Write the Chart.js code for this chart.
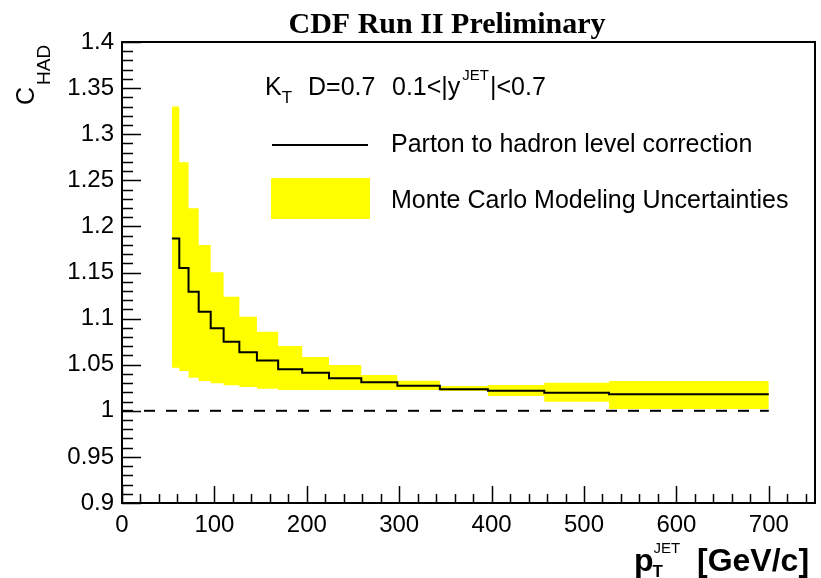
<!DOCTYPE html>
<html lang="en">

<head>
    <meta charset="UTF-8">
    <title>C_HAD</title>
    <script src="https://cdn.jsdelivr.net/npm/chart.js"></script>
    <style>
        body { margin: 0; background: #fff; }
        #caixa { width: 821px; height: 578px; }
    </style>
</head>

<body>
    <div id="caixa">
        <canvas id="grafico"></canvas>
    </div>
</body>

</html>

<script>

    // bins em pT (GeV/c)
    var binEdges = [54, 62, 72, 83, 96, 110, 127, 146, 169, 195, 224, 259, 298, 344, 396, 457, 527, 700];
    // correcao parton -> hadron
    var hadCorr = [1.187, 1.155, 1.129, 1.1075, 1.0895, 1.075, 1.0634, 1.0546, 1.0451, 1.0413, 1.0352, 1.0309, 1.0272, 1.0233, 1.0218, 1.0196, 1.0179];
    // banda de incerteza (Monte Carlo)
    var bandUpper = [1.330, 1.2695, 1.2196, 1.1798, 1.1502, 1.1237, 1.102, 1.0858, 1.0703, 1.0583, 1.0497, 1.0388, 1.0326, 1.0269, 1.028, 1.0305, 1.0323];
    var bandLower = [1.0467, 1.0432, 1.0359, 1.0323, 1.0298, 1.0277, 1.0258, 1.024, 1.0226, 1.0226, 1.0226, 1.0226, 1.0226, 1.0215, 1.016, 1.0098, 1.002];
    var refLevel = [[0, 1], [700, 1]];
    var xTickLabels = [0, 100, 200, 300, 400, 500, 600, 700];

    var xMin = 0, xMax = 750;
    var yMin = 0.9, yMax = 1.4;

    function histo(valores) {
        var pts = [];
        for (var i = 0; i < valores.length; i++) {
            pts.push({ x: binEdges[i], y: valores[i] });
        }
        pts.push({ x: binEdges[binEdges.length - 1], y: valores[valores.length - 1] });
        return pts;
    }

    var SANS = '"Liberation Sans", Arial, Helvetica, sans-serif';
    var SERIF = '"Liberation Serif", "Times New Roman", serif';

    function texto(ctx, s, x, y, fonte) {
        ctx.font = fonte;
        ctx.fillText(s, x, y);
        return ctx.measureText(s).width;
    }

    var desenhos = {
        id: 'desenhos',
        afterDraw: function (chart) {
            var ctx = chart.ctx;
            var a = chart.chartArea;
            var sx = chart.scales.x;
            var sy = chart.scales.y;
            ctx.save();
            ctx.strokeStyle = '#000';
            ctx.fillStyle = '#000';

            // ticks para dentro (estilo ROOT)
            ctx.lineWidth = 1.5;
            ctx.beginPath();
            for (var i = 0; i <= 50; i++) {
                var py = Math.round(sy.getPixelForValue(yMin + i * 0.01)) + 0.5;
                var len = (i % 5 == 0) ? 19 : 11;
                ctx.moveTo(a.left, py);
                ctx.lineTo(a.left + len, py);
            }
            for (var j = 0; j <= 37; j++) {
                var v = j * 20;
                var px = Math.round(sx.getPixelForValue(v)) + 0.5;
                var lx = (v % 100 == 0) ? 17 : 9;
                ctx.moveTo(px, a.bottom);
                ctx.lineTo(px, a.bottom - lx);
            }
            ctx.stroke();

            // moldura
            ctx.lineWidth = 2;
            ctx.strokeRect(a.left, a.top, a.right - a.left, a.bottom - a.top);

            // titulo
            ctx.textAlign = 'center';
            ctx.textBaseline = 'alphabetic';
            texto(ctx, 'CDF Run II Preliminary', 447, 33, 'bold 30px ' + SERIF);

            // legenda
            ctx.textAlign = 'left';
            var x = 265;
            x += texto(ctx, 'K', x, 95, '25px ' + SANS);
            texto(ctx, 'T', x, 103, '17px ' + SANS);
            texto(ctx, 'D=0.7', 308, 95, '25px ' + SANS);
            x = 392;
            x += texto(ctx, '0.1<|y', x, 95, '25px ' + SANS);
            x += 2;
            x += texto(ctx, 'JET', x, 80, '15px ' + SANS);
            texto(ctx, '|<0.7', x + 1, 95, '25px ' + SANS);

            ctx.lineWidth = 2;
            ctx.beginPath();
            ctx.moveTo(272, 145);
            ctx.lineTo(368, 145);
            ctx.stroke();
            texto(ctx, 'Parton to hadron level correction', 391, 152, '25px ' + SANS);

            ctx.fillStyle = '#ffff00';
            ctx.fillRect(271, 178, 99, 41);
            ctx.fillStyle = '#000';
            texto(ctx, 'Monte Carlo Modeling Uncertainties', 391, 208, '25px ' + SANS);

            // titulo eixo x
            x = 634;
            x += texto(ctx, 'p', x, 571, 'bold 32px ' + SANS);
            texto(ctx, 'T', x - 1, 577, 'bold 17px ' + SANS);
            texto(ctx, 'JET', x, 553, '15px ' + SANS);
            texto(ctx, '[GeV/c]', 697, 571, 'bold 32px ' + SANS);

            // titulo eixo y
            ctx.save();
            ctx.translate(34, 105);
            ctx.rotate(-Math.PI / 2);
            var w = texto(ctx, 'C', 0, 0, '25px ' + SANS);
            texto(ctx, 'HAD', w + 2, 16, '19px ' + SANS);
            ctx.restore();

            ctx.restore();
        }
    };

    var ctx1 = document.getElementById('grafico');

    new Chart(ctx1, {
        type: 'line',
        data: {
            datasets: [{
                label: 'upper',
                data: histo(bandUpper),
                stepped: 'before',
                borderWidth: 0,
                borderColor: 'rgba(0,0,0,0)',
                backgroundColor: '#ffff00',
                fill: '+1',
                pointRadius: 0,
                order: 3
            }, {
                label: 'lower',
                data: histo(bandLower),
                stepped: 'before',
                borderWidth: 0,
                borderColor: 'rgba(0,0,0,0)',
                fill: false,
                pointRadius: 0,
                order: 2
            }, {
                label: 'Parton to hadron level correction',
                data: histo(hadCorr),
                stepped: 'before',
                borderWidth: 2,
                borderColor: '#000',
                fill: false,
                pointRadius: 0,
                order: 0
            }, {
                label: 'ref',
                data: refLevel.map(function (p) { return { x: p[0], y: p[1] }; }),
                borderWidth: 2,
                borderColor: '#000',
                borderDash: [11, 11],
                fill: false,
                pointRadius: 0,
                order: 1
            }]
        },
        options: {
            responsive: true,
            maintainAspectRatio: false,
            animation: false,
            layout: {
                padding: { top: 42, right: 6, left: 0, bottom: 0 }
            },
            plugins: {
                legend: { display: false },
                tooltip: { enabled: false },
                title: { display: false }
            },
            scales: {
                x: {
                    type: 'linear',
                    min: xMin,
                    max: xMax,
                    afterFit: function (s) { s.height = 75; },
                    afterBuildTicks: function (s) {
                        s.ticks = xTickLabels.map(function (v) { return { value: v }; });
                    },
                    border: { display: false },
                    grid: { display: false, drawTicks: false },
                    ticks: {
                        autoSkip: false,
                        maxRotation: 0,
                        padding: 8,
                        color: '#000',
                        font: { family: SANS, size: 24 }
                    }
                },
                y: {
                    type: 'linear',
                    min: yMin,
                    max: yMax,
                    afterFit: function (s) { s.width = 122; },
                    border: { display: false },
                    grid: { display: false, drawTicks: false },
                    ticks: {
                        stepSize: 0.05,
                        autoSkip: false,
                        padding: 8,
                        color: '#000',
                        font: { family: SANS, size: 24 },
                        callback: function (v) { return String(Number(v.toFixed(2))); }
                    }
                }
            }
        },
        plugins: [desenhos]
    });

</script>
